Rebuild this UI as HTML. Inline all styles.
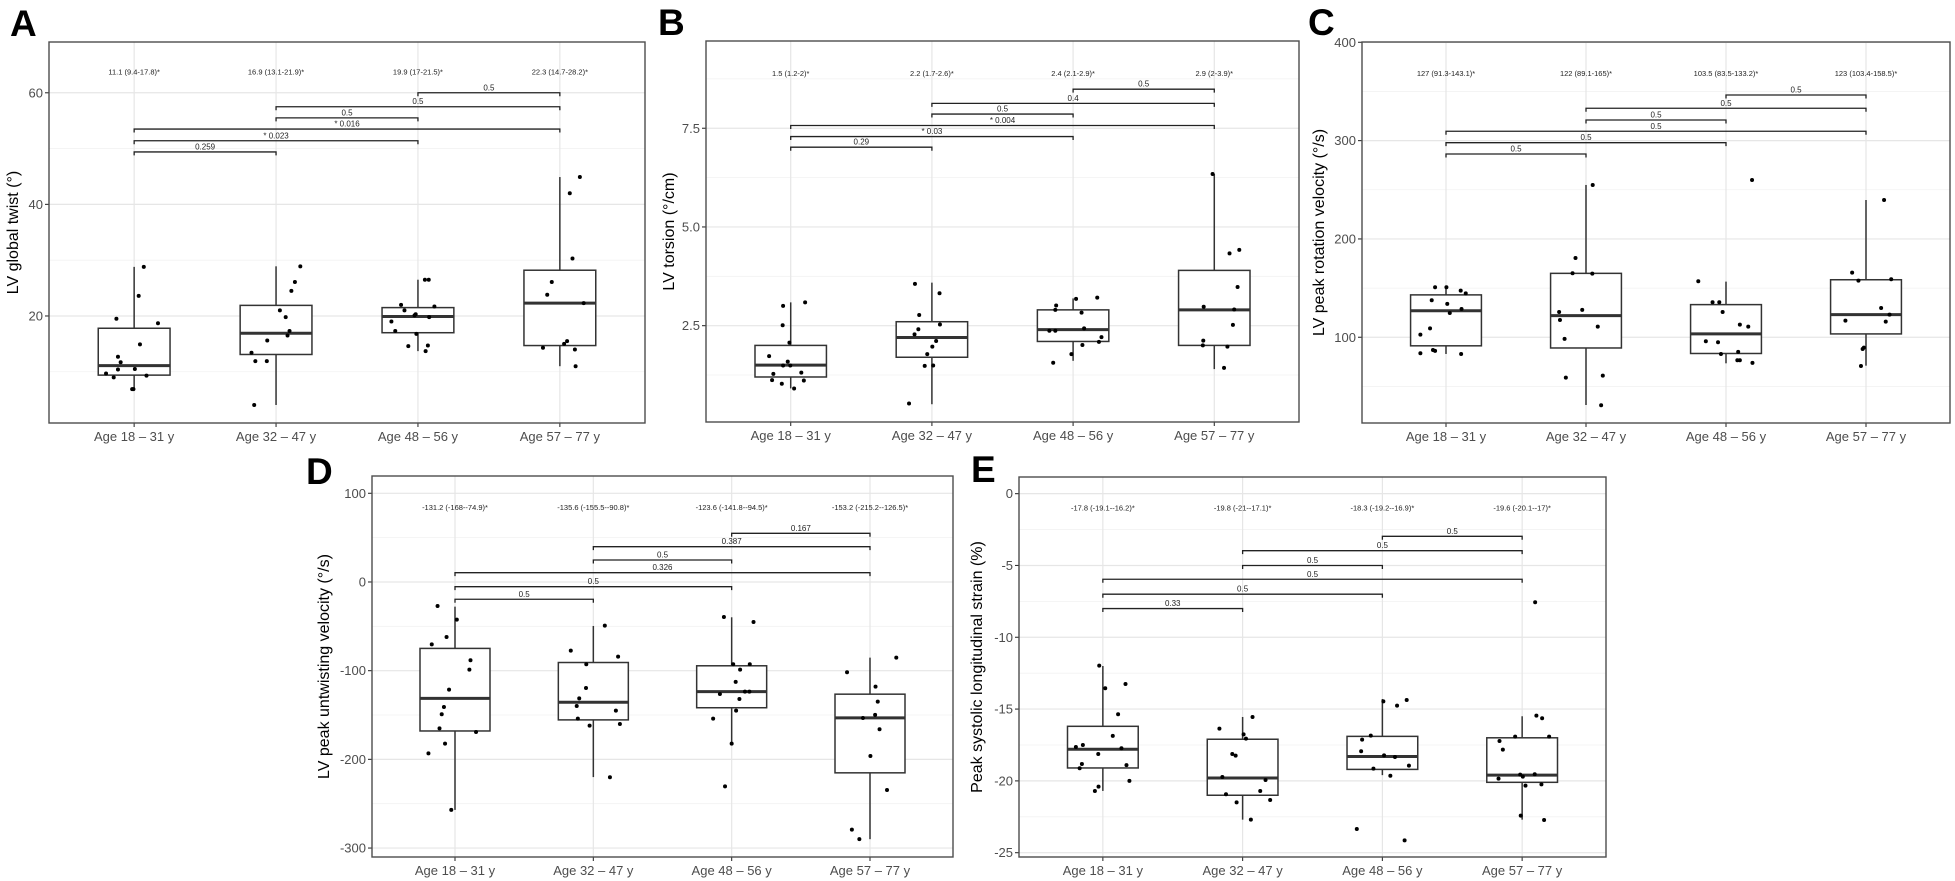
<!DOCTYPE html>
<html><head><meta charset="utf-8"><title>LV mechanics by age group</title>
<style>html,body{margin:0;padding:0;background:#fff;}svg{display:block;font-family:"Liberation Sans",Arial,sans-serif;}</style>
</head><body>
<svg id="fig" width="1955" height="881" viewBox="0 0 1955 881" xmlns="http://www.w3.org/2000/svg"></svg>
<script>
const categories=["Age 18 \u2013 31 y","Age 32 \u2013 47 y","Age 48 \u2013 56 y","Age 57 \u2013 77 y"];
const brPairs=[[0,1],[0,2],[0,3],[1,2],[1,3],[2,3]];

// Panel A
const aTicks=[20,40,60];
const aMinor=[10,30,50];
const aMed=[11.1,16.9,19.9,22.3];
const aQ1=[9.4,13.1,17,14.7];
const aQ3=[17.8,21.9,21.5,28.2];
const aLo=[6.7,4.05,13.7,11.0];
const aHi=[28.8,28.9,26.5,44.9];
const aVals=[[28.8,23.6,19.5,18.7,14.9,12.7,11.7,10.4,10.5,9.7,9.0,9.3,6.9,6.9],
 [28.9,26.1,24.5,21.0,19.8,17.3,16.5,15.6,13.4,11.9,11.9,4.05],
 [26.5,26.5,22.0,21.0,21.7,20.3,20.1,19.8,19.0,17.3,16.8,14.6,14.7,13.7],
 [44.9,42.0,30.3,26.1,23.8,22.3,14.3,15.5,15.0,14.0,11.0]];
const aJit=[[0.068,0.032,-0.125,0.168,0.041,-0.114,-0.095,-0.114,0.005,-0.198,-0.144,0.087,-0.014,-0.005],
 [0.171,0.133,0.108,0.027,0.068,0.095,0.081,-0.062,-0.173,-0.146,-0.065,-0.154],
 [0.049,0.076,-0.119,-0.095,0.116,-0.016,-0.024,0.079,-0.187,-0.160,-0.011,-0.068,0.070,0.054],
 [0.141,0.070,0.089,-0.057,-0.089,0.168,-0.119,0.051,0.030,0.106,0.111]];
const aBrLabels=["0.259","* 0.023","* 0.016","0.5","0.5","0.5"];
const aBrY=[49.4,51.4,53.5,55.5,57.5,60.0];

// Panel B
const bTicks=[2.5,5.0,7.5];
const bTickLabels=["2.5","5.0","7.5"];
const bMinor=[1.25,3.75,6.25,8.75];
const bMed=[1.5,2.2,2.4,2.9];
const bQ1=[1.2,1.7,2.1,2];
const bQ3=[2,2.6,2.9,3.9];
const bLo=[0.91,0.51,1.61,1.40];
const bHi=[3.09,3.59,3.19,6.34];
const bVals=[[3.0,3.09,2.51,2.07,1.73,1.59,1.49,1.49,1.28,1.31,1.12,1.11,1.03,0.91],
 [3.56,3.32,2.77,2.53,2.41,2.28,2.11,1.97,1.78,1.48,1.49,0.53],
 [3.18,3.21,3.01,2.9,2.83,2.43,2.37,2.37,2.21,2.09,2.01,1.78,1.56],
 [6.34,4.42,4.33,3.48,2.98,2.91,2.52,2.12,2.0,1.97,1.43]];
const bJit=[[-0.054,0.102,-0.057,-0.009,-0.153,-0.021,-0.054,-0.003,-0.123,0.075,-0.132,0.093,-0.063,0.024],
 [-0.12,0.054,-0.09,0.057,-0.096,-0.123,0.03,0.003,-0.033,-0.051,0.009,-0.162],
 [0.021,0.171,-0.12,-0.126,0.06,0.078,-0.168,-0.126,0.201,0.183,0.066,-0.012,-0.141],
 [-0.012,0.177,0.108,0.165,-0.075,0.141,0.132,-0.078,-0.081,0.093,0.069]];
const bBrLabels=["0.29","* 0.03","* 0.004","0.5","0.4","0.5"];
const bBrY=[7.02,7.29,7.57,7.86,8.13,8.49];

// Panel C
const cTicks=[100,200,300,400];
const cMinor=[50,150,250,350];
const cMed=[127,122,103.5,123];
const cQ1=[91.3,89.1,83.5,103.4];
const cQ3=[143.1,165,133.2,158.5];
const cLo=[83.0,31.1,73.5,71.1];
const cHi=[152.2,254.9,156.6,239.6];
const cVals=[[150.9,150.9,147.4,144.7,137.6,133.9,128.8,124.7,102.7,109.1,87.1,86.1,83.7,83.0],
 [254.9,180.6,165.1,164.7,125.7,127.8,117.6,110.8,98.3,61,58.9,30.9],
 [260,157,135.6,135.6,125.7,112.8,110.8,95.9,94.9,85.1,83,76.6,76.6,73.9],
 [239.6,165.7,157.6,159,129.8,123,116.9,115.9,89.4,88.1,70.8]];
const cJit=[[-0.078,0.003,0.105,0.141,-0.102,0.009,0.111,0.027,-0.183,-0.114,-0.093,-0.078,-0.183,0.108],
 [0.048,-0.075,-0.096,0.045,-0.192,-0.027,-0.186,0.084,-0.153,0.12,-0.144,0.108],
 [0.186,-0.198,-0.096,-0.048,-0.024,0.099,0.159,-0.144,-0.057,0.087,-0.036,0.081,0.099,0.189],
 [0.129,-0.099,-0.054,0.18,0.108,0.168,-0.147,0.141,-0.015,-0.024,-0.036]];
const cBrLabels=["0.5","0.5","0.5","0.5","0.5","0.5"];
const cBrY=[286.4,297.9,309.5,321,332.9,346.4];

// Panel D
const dTicks=[-300,-200,-100,0,100];
const dMinor=[-250,-150,-50,50];
const dMed=[-131.2,-135.6,-123.6,-153.2];
const dQ1=[-168,-155.5,-141.8,-215.2];
const dQ3=[-74.9,-90.8,-94.5,-126.5];
const dLo=[-257,-220,-182.3,-290];
const dHi=[-27.8,-49.6,-39.8,-85.3];
const dVals=[[-27.1,-42.5,-62,-70.3,-88.3,-98.8,-121.4,-140.9,-149.2,-165,-169.1,-182.3,-193.2,-257],
 [-49.2,-77.4,-84.2,-92.8,-119.5,-131.2,-139.8,-145.1,-154.1,-160.1,-162,-220.2],
 [-39.5,-45.1,-92.8,-92.8,-98.8,-112.7,-126.3,-123.6,-123.6,-131.9,-145.1,-154.1,-182.3,-230.4],
 [-85.3,-101.8,-118,-134.9,-149.9,-153.3,-166.1,-196.2,-234.5,-279.2,-290]];
const dJit=[[-0.126,0.013,-0.061,-0.168,0.112,0.104,-0.043,-0.08,-0.096,-0.112,0.152,-0.072,-0.192,-0.027],
 [0.083,-0.163,0.179,-0.051,-0.053,-0.102,-0.12,0.163,-0.112,0.192,-0.027,0.12],
 [-0.056,0.158,0.011,0.131,0.061,0.029,-0.085,0.096,0.128,0.056,0.032,-0.134,0,-0.048],
 [0.19,-0.166,0.04,0.056,0.037,-0.051,0.069,0.003,0.123,-0.131,-0.077]];
const dBrLabels=["0.5","0.5","0.326","0.5","0.387","0.167"];
const dBrY=[-19.5,-5.3,10.5,24.8,39.8,54.9];

// Panel E
const eTicks=[-25,-20,-15,-10,-5,0];
const eMinor=[-22.5,-17.5,-12.5,-7.5,-2.5];
const eMed=[-17.8,-19.8,-18.3,-19.6];
const eQ1=[-19.1,-21,-19.2,-20.1];
const eQ3=[-16.2,-17.1,-16.9,-17];
const eLo=[-20.7,-22.7,-19.6,-22.7];
const eHi=[-12.0,-15.55,-14.3,-15.5];
const eVals=[[-11.97,-13.55,-13.25,-15.36,-16.87,-17.64,-17.5,-17.73,-18.13,-18.82,-19.12,-18.9,-20.0,-20.4,-20.7],
 [-15.55,-16.36,-16.76,-17.06,-18.13,-18.24,-19.73,-19.94,-20.7,-20.93,-21.33,-21.5,-22.7],
 [-14.46,-14.37,-14.76,-16.85,-17.13,-17.94,-18.22,-18.34,-19.15,-18.94,-19.64,-23.35,-24.14],
 [-7.56,-15.46,-15.64,-16.92,-16.92,-17.22,-17.82,-19.56,-19.7,-19.54,-19.84,-20.33,-20.24,-22.42,-22.72]];
const eJit=[[-0.026,0.017,0.162,0.109,0.071,-0.193,-0.143,0.133,-0.033,-0.15,-0.166,0.169,0.19,-0.031,-0.057],
 [0.071,-0.166,0.007,0.024,-0.074,-0.05,-0.145,0.164,0.126,-0.119,0.197,-0.043,0.059],
 [0.007,0.174,0.105,-0.083,-0.145,-0.152,0.012,0.09,-0.064,0.19,0.057,-0.183,0.159],
 [0.093,0.102,0.143,-0.05,0.193,-0.162,-0.138,-0.014,0.005,0.09,-0.169,0.024,0.138,-0.01,0.157]];
const eBrLabels=["0.33","0.5","0.5","0.5","0.5","0.5"];
const eBrY=[-8.0,-7.0,-5.96,-5.0,-3.97,-2.97];

const NS="http://www.w3.org/2000/svg";
const svg=document.getElementById('fig');
function mk(tag,attrs,parent,text){
  const e=document.createElementNS(NS,tag);
  for(const k in attrs)e.setAttribute(k,attrs[k]);
  if(text!==undefined)e.textContent=text;
  parent.appendChild(e);return e;
}

const panels=[
 {id:'a',letter:'A',lx:10,ly:36,title:'LV global twist (\u00b0)',tx:12,L:49,R:645,T:42,B:423,ymin:0.82,ymax:69.1,ticks:aTicks,tl:null,minor:aMinor,med:aMed,q1:aQ1,q3:aQ3,lo:aLo,hi:aHi,vals:aVals,jit:aJit,brL:aBrLabels,brY:aBrY,annY:63.8},
 {id:'b',letter:'B',lx:658,ly:35,title:'LV torsion (\u00b0/cm)',tx:668,L:706,R:1299,T:41,B:422,ymin:0.06,ymax:9.71,ticks:bTicks,tl:bTickLabels,minor:bMinor,med:bMed,q1:bQ1,q3:bQ3,lo:bLo,hi:bHi,vals:bVals,jit:bJit,brL:bBrLabels,brY:bBrY,annY:8.9},
 {id:'c',letter:'C',lx:1308,ly:35,title:'LV peak rotation velocity (\u00b0/s)',tx:1318,L:1362,R:1950,T:42,B:423,ymin:12.8,ymax:400.3,ticks:cTicks,tl:null,minor:cMinor,med:cMed,q1:cQ1,q3:cQ3,lo:cLo,hi:cHi,vals:cVals,jit:cJit,brL:cBrLabels,brY:cBrY,annY:369},
 {id:'d',letter:'D',lx:306,ly:484,title:'LV peak untwisting velocity (\u00b0/s)',tx:323,L:372,R:953,T:476,B:857,ymin:-310.1,ymax:119.5,ticks:dTicks,tl:null,minor:dMinor,med:dMed,q1:dQ1,q3:dQ3,lo:dLo,hi:dHi,vals:dVals,jit:dJit,brL:dBrLabels,brY:dBrY,annY:84.6},
 {id:'e',letter:'E',lx:971,ly:482,title:'Peak systolic longitudinal strain (%)',tx:976,L:1019,R:1606,T:477,B:857,ymin:-25.3,ymax:1.16,ticks:eTicks,tl:null,minor:eMinor,med:eMed,q1:eQ1,q3:eQ3,lo:eLo,hi:eHi,vals:eVals,jit:eJit,brL:eBrLabels,brY:eBrY,annY:-0.97}
];

panels.forEach(p=>{
  const g=mk('g',{},svg);
  
  
  const sp=(p.R-p.L)/4.2;
  const x=i=>p.L+(i+0.6)*sp;
  const y=v=>p.B-(v-p.ymin)/(p.ymax-p.ymin)*(p.B-p.T);
  const ltr=mk('text',{x:p.lx,y:p.ly,'font-size':37,'font-weight':'bold',fill:'#000'},g,p.letter);
  
  
  mk('rect',{x:p.L,y:p.T,width:p.R-p.L,height:p.B-p.T,fill:'#fff'},g);
  p.minor.forEach(v=>{const l=mk('line',{x1:p.L,x2:p.R,y1:y(v),y2:y(v),stroke:'#f2f2f2','stroke-width':0.8},g);
    
    });
  p.ticks.forEach(v=>{const l=mk('line',{x1:p.L,x2:p.R,y1:y(v),y2:y(v),stroke:'#e6e6e6','stroke-width':1.2},g);
    
    });
  categories.forEach((c,i)=>{const l=mk('line',{x1:x(i),x2:x(i),y1:p.T,y2:p.B,stroke:'#e6e6e6','stroke-width':1.2},g);
    
    });
  // y ticks
  p.ticks.forEach((v,k)=>{
    mk('line',{x1:p.L-4,x2:p.L,y1:y(v),y2:y(v),stroke:'#333','stroke-width':1.1},g);
    const t=mk('text',{x:p.L-6,y:y(v)+4.5,'text-anchor':'end','font-size':13,fill:'#4d4d4d'},g,p.tl?p.tl[k]:String(v));
    
    
  });
  // x ticks
  categories.forEach((c,i)=>{
    mk('line',{x1:x(i),x2:x(i),y1:p.B,y2:p.B+4,stroke:'#333','stroke-width':1.1},g);
    const t=mk('text',{x:x(i),y:p.B+18,'text-anchor':'middle','font-size':13,fill:'#4d4d4d'},g,c);
    
    
  });
  // y title
  const cy=(p.T+p.B)/2;
  const yt=mk('text',{x:p.tx+6,y:cy,transform:`rotate(-90 ${p.tx+6} ${cy})`,'text-anchor':'middle','font-size':16,fill:'#000'},g,p.title);
  
  
  // boxes
  const hw=0.253*sp;
  categories.forEach((c,i)=>{
    const bg=mk('g',{},g);
    
    
    mk('line',{x1:x(i),x2:x(i),y1:y(p.hi[i]),y2:y(p.q3[i]),stroke:'#333','stroke-width':1.5},bg);
    mk('line',{x1:x(i),x2:x(i),y1:y(p.q1[i]),y2:y(p.lo[i]),stroke:'#333','stroke-width':1.5},bg);
    mk('rect',{x:x(i)-hw,y:y(p.q3[i]),width:2*hw,height:y(p.q1[i])-y(p.q3[i]),fill:'#fff',stroke:'#333','stroke-width':1.5},bg);
    mk('line',{x1:x(i)-hw,x2:x(i)+hw,y1:y(p.med[i]),y2:y(p.med[i]),stroke:'#333','stroke-width':3},bg);
    p.vals[i].forEach((v,k)=>{
      const d=mk('circle',{cx:x(i)+p.jit[i][k]*sp,cy:y(v),r:2,fill:'#000'},bg);
      
      
    });
    const an=mk('text',{x:x(i),y:y(p.annY)+3,'text-anchor':'middle','font-size':7.5,fill:'#222'},g,`${p.med[i]} (${p.q1[i]}-${p.q3[i]})*`);
    
    
  });
  // brackets
  brPairs.forEach((pr,k)=>{
    const yy=y(p.brY[k]);const x1=x(pr[0]),x2=x(pr[1]);
    const br=mk('path',{d:`M${x1},${yy+3.5}V${yy}H${x2}V${yy+3.5}`,fill:'none',stroke:'#222','stroke-width':1.3},g);
    
    
    const t=mk('text',{x:(x1+x2)/2,y:yy-2.5,'text-anchor':'middle','font-size':8,fill:'#222'},g,p.brL[k]);
    
    
  });
  const border=mk('rect',{x:p.L,y:p.T,width:p.R-p.L,height:p.B-p.T,fill:'none',stroke:'#4d4d4d','stroke-width':1.4},g);
  
  
});
</script>
</body></html>
